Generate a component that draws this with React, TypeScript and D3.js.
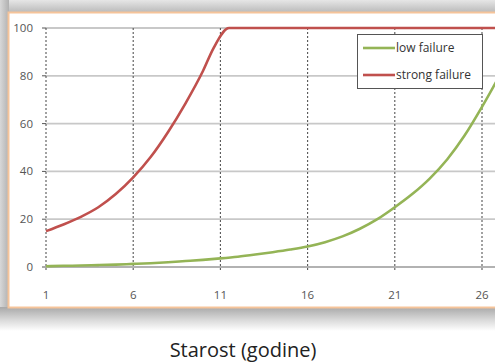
import React from "react";
import * as d3 from "d3";

const lowAges = [1, 2, 3, 4, 5, 6, 7, 8, 9, 10, 11, 12, 13, 14, 15, 16, 17, 18, 19, 20, 21, 22, 23, 24, 25, 26, 27];
const lowFailure = [0.3, 0.5, 0.6, 0.8, 1.0, 1.3, 1.6, 2.0, 2.5, 3.0, 3.6, 4.3, 5.2, 6.2, 7.3, 8.6, 10.4, 12.8, 16, 20, 25, 30.5, 37, 45, 55, 67, 80];
const strongAges = [1, 2, 3, 4, 5, 6, 7, 8, 9, 10, 10.6, 11.5, 12, 14, 16, 18, 20, 22, 24, 26, 28];
const strongFailure = [15, 17.8, 21, 25, 30.5, 37.5, 46, 56.5, 68.5, 82, 91.5, 100, 100, 100, 100, 100, 100, 100, 100, 100, 100];
const xTicks = [1, 6, 11, 16, 21, 26];
const yTicks = [0, 20, 40, 60, 80, 100];
const seriesNames = ["low failure", "strong failure"];
const seriesColors = ["#94b456", "#c0504d"];
const axisTitle = "Starost (godine)";

export default function App() {
  const W = 495, H = 362;
  const x = d3.scaleLinear().domain([1, 26]).range([46, 482]);
  const y = d3.scaleLinear().domain([0, 100]).range([267, 28]);
  const line = d3.line<[number, number]>().x(d => x(d[0])).y(d => y(d[1])).curve(d3.curveMonotoneX);
  const lowPts: [number, number][] = lowAges.map((a, i) => [a, lowFailure[i]]);
  const strongPts: [number, number][] = strongAges.map((a, i) => [a, strongFailure[i]]);
  const font = "'Open Sans', 'Noto Sans', sans-serif";
  return (
    <svg width={W} height={H} style={{ position: "absolute", left: 0, top: 0, background: "#fff" }}>
      <defs>
        <linearGradient id="topShadow" x1="0" y1="0" x2="0" y2="1">
          <stop offset="0" stopColor="#e6e6e6" />
          <stop offset="1" stopColor="#b8b8b8" />
        </linearGradient>
        <linearGradient id="leftShadow" x1="0" y1="0" x2="1" y2="0">
          <stop offset="0" stopColor="#d8d8d8" />
          <stop offset="1" stopColor="#b0b0b0" />
        </linearGradient>
        <linearGradient id="bottomShadow" x1="0" y1="0" x2="0" y2="1">
          <stop offset="0" stopColor="#a8a8a8" />
          <stop offset="0.5" stopColor="#d6d6d6" />
          <stop offset="1" stopColor="#ffffff" />
        </linearGradient>
        <clipPath id="panelClip">
          <rect x={9} y={13} width={W} height={294} />
        </clipPath>
      </defs>
      <rect x={0} y={0} width={W} height={13} fill="url(#topShadow)" />
      <rect x={0} y={0} width={9} height={310} fill="url(#leftShadow)" />
      <rect x={0} y={307} width={W} height={24} fill="url(#bottomShadow)" />
      <rect x={8.5} y={12.5} width={W} height={295} fill="#fff" stroke="#f6c49a" strokeWidth={2} />
      <g clipPath="url(#panelClip)">
        {yTicks.filter(t => t > 0).map(t => (
          <line key={"h" + t} x1={x(1)} x2={W} y1={y(t)} y2={y(t)} stroke="#c8c8c8" strokeWidth={1.8} />
        ))}
        {xTicks.map(t => (
          <line key={"v" + t} x1={x(t)} x2={x(t)} y1={y(100)} y2={y(0) + 4} stroke="#555" strokeWidth={1.1} strokeDasharray="2,2" />
        ))}
        <line x1={x(1)} x2={W} y1={y(0)} y2={y(0)} stroke="#666" strokeWidth={1.2} />
        {yTicks.map(t => (
          <line key={"yt" + t} x1={x(1) - 4} x2={x(1)} y1={y(t)} y2={y(t)} stroke="#555" strokeWidth={1} />
        ))}
        <path d={line(lowPts) || ""} fill="none" stroke={seriesColors[0]} strokeWidth={2.6} />
        <path d={line(strongPts) || ""} fill="none" stroke={seriesColors[1]} strokeWidth={2.6} />
      </g>
      {yTicks.map(t => (
        <text key={"yl" + t} x={33} y={y(t)} dy="0.35em" textAnchor="end" fontSize={11.5} fill="#555" fontFamily={font}>{t}</text>
      ))}
      {xTicks.map(t => (
        <text key={"xl" + t} x={x(t)} y={295} dy="0.35em" textAnchor="middle" fontSize={11.5} fill="#555" fontFamily={font}>{t}</text>
      ))}
      <g>
        <rect x={357.5} y={34.5} width={125} height={54} fill="#fff" stroke="#555" strokeWidth={1} />
        {seriesNames.map((n, i) => (
          <g key={n}>
            <line x1={363} x2={395} y1={48 + i * 27} y2={48 + i * 27} stroke={seriesColors[i]} strokeWidth={2.6} />
            <text x={396} y={48 + i * 27} dy="0.35em" fontSize={12} fill="#333" fontFamily={font}>{n}</text>
          </g>
        ))}
      </g>
      <text x={243} y={357} textAnchor="middle" fontSize={20} fill="#222" fontFamily={font}>{axisTitle}</text>
    </svg>
  );
}
